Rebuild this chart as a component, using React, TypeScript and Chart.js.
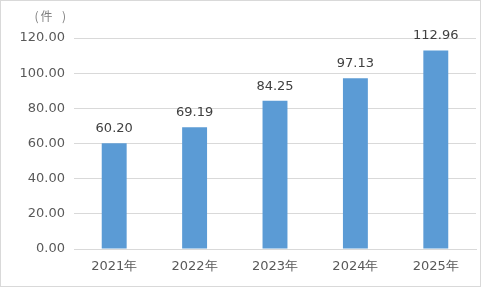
import React, { useEffect, useRef } from "react";
import { Chart, registerables } from "chart.js";

Chart.register(...registerables);

const categories = ["2021年", "2022年", "2023年", "2024年", "2025年"];
const values = [60.2, 69.19, 84.25, 97.13, 112.96];
const yTicks = [0, 20, 40, 60, 80, 100, 120];
const unitParts = ["(", "件", ")"];

const FONT = "'DejaVu Sans', sans-serif";

export default function App() {
  const ref = useRef<HTMLCanvasElement | null>(null);

  useEffect(() => {
    document.body.style.margin = "0";
    const canvas = ref.current;
    if (!canvas) return;

    const labelPlugin = {
      id: "valueLabels",
      afterDatasetsDraw(chart: any) {
        const ctx = chart.ctx;
        const meta = chart.getDatasetMeta(0);
        ctx.save();
        ctx.font = `13px ${FONT}`;
        ctx.fillStyle = "#404040";
        ctx.textAlign = "center";
        ctx.textBaseline = "alphabetic";
        meta.data.forEach((bar: any, i: number) => {
          ctx.fillText(values[i].toFixed(2), bar.x, bar.y - 11);
        });
        // unit label "(件)" at the top-left
        ctx.fillStyle = "#7f7f7f";
        ctx.textBaseline = "middle";
        ctx.font = `12px 'Noto Sans CJK SC', ${FONT}`;
        const xs = [35.5, 45.5, 63];
        unitParts.forEach((p, i) => ctx.fillText(p, xs[i], 15));
        ctx.restore();
      },
    };

    const chart = new Chart(canvas, {
      type: "bar",
      data: {
        labels: categories,
        datasets: [
          {
            data: values,
            backgroundColor: "#5b9bd5",
            borderWidth: 0,
            barPercentage: 0.31,
            categoryPercentage: 1,
          },
        ],
      },
      options: {
        animation: false,
        responsive: false,
        maintainAspectRatio: false,
        layout: { padding: { top: 37, right: 4, left: 0, bottom: 0 } },
        plugins: {
          legend: { display: false },
          tooltip: { enabled: false },
        },
        scales: {
          x: {
            grid: { display: false, drawTicks: false },
            border: { display: true, color: "#d9d9d9", width: 1 },
            ticks: {
              color: "#595959",
              font: { family: FONT, size: 13 },
              padding: 10,
              maxRotation: 0,
            },
            afterFit(scale: any) {
              scale.height = 37;
            },
          },
          y: {
            min: 0,
            max: 120,
            afterBuildTicks(scale: any) {
              scale.ticks = yTicks.map((v) => ({ value: v }));
            },
            grid: { color: "#d9d9d9", drawTicks: false, lineWidth: 1 },
            border: { display: false },
            ticks: {
              color: "#595959",
              font: { family: FONT, size: 13 },
              padding: 9,
              callback: (v: any) => Number(v).toFixed(2),
            },
            afterFit(scale: any) {
              scale.width = 73;
            },
          },
        },
      },
      plugins: [labelPlugin],
    });

    return () => chart.destroy();
  }, []);

  return (
    <div
      style={{
        width: 481,
        height: 287,
        boxSizing: "border-box",
        border: "1px solid #d9d9d9",
        background: "#ffffff",
      }}
    >
      <canvas ref={ref} width={479} height={285} style={{ display: "block" }} />
    </div>
  );
}
